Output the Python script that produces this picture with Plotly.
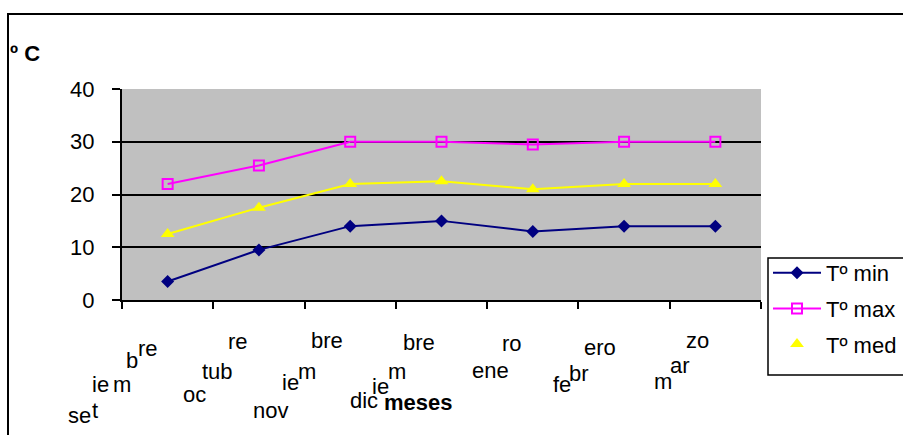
import plotly.graph_objects as go

months = ["setiembre", "octubre", "noviembre", "diciembre", "enero", "febrero", "marzo"]
t_min = [3.5, 9.5, 14, 15, 13, 14, 14]
t_max = [22, 25.5, 30, 30, 29.5, 30, 30]
t_med = [12.5, 17.5, 22, 22.5, 21, 22, 22]
y_ticks = [0, 10, 20, 30, 40]

# broken tick-label fragments as they appear in the picture, per month
label_parts = [
    ["se", "t", "ie", "m", "b", "re"],
    ["oc", "tub", "re"],
    ["nov", "ie", "m", "bre"],
    ["dic", "ie", "m", "bre"],
    ["ene", "ro"],
    ["fe", "br", "ero"],
    ["m", "ar", "zo"],
]
# pixel offsets (dx, dy) of each fragment from the category centre / axis bottom
part_offsets = [
    [(-88, -115), (-73, -110), (-67, -84), (-46, -84), (-36, -60), (-20, -48)],
    [(-64, -94), (-41, -71), (-21, -41)],
    [(-80, -110), (-60, -82), (-43, -71), (-23, -40)],
    [(-78, -100), (-61, -86), (-45, -71), (-23, -42)],
    [(-42, -70), (-21, -43)],
    [(-62, -84), (-45, -73), (-24, -47)],
    [(-52, -81), (-35, -65), (-18, -40)],
]

FONT = "Liberation Sans, Arial, sans-serif"
FS = 22

def px_x(p):
    return (p - 122) / 639

def px_y(p):
    return (300 - p) / 211

fig = go.Figure()
fig.add_trace(go.Scatter(
    x=months, y=t_min, mode="lines+markers", name="Tº min", legendgroup="a",
    line=dict(color="#000080", width=2),
    marker=dict(symbol="diamond", size=10, color="#000080"),
))
fig.add_trace(go.Scatter(
    x=months, y=t_max, mode="lines+markers", name="Tº max", legendgroup="b",
    line=dict(color="#FF00FF", width=2),
    marker=dict(symbol="square-open", size=10, color="#FF00FF", line=dict(width=2)),
))
fig.add_trace(go.Scatter(
    x=months, y=t_med, mode="lines+markers", name="Tº med", showlegend=False,
    line=dict(color="#FFFF00", width=2),
    marker=dict(symbol="triangle-up", size=12, color="#FFFF00"),
))
fig.add_trace(go.Scatter(
    x=[None], y=[None], mode="markers", name="Tº med", legendgroup="c",
    marker=dict(symbol="triangle-up", size=12, color="#FFFF00"),
))

annotations = []
for m, parts, offs in zip(months, label_parts, part_offsets):
    for txt, (dx, dy) in zip(parts, offs):
        annotations.append(dict(
            x=m, xref="x", y=0, yref="paper", text=txt, showarrow=False,
            xanchor="center", yanchor="middle", xshift=dx, yshift=dy,
            font=dict(family=FONT, size=FS, color="black"),
        ))
annotations.append(dict(
    x=px_x(418), xref="paper", y=0, yref="paper", yshift=-102,
    text="<b>meses</b>", showarrow=False, xanchor="center", yanchor="middle",
    font=dict(family=FONT, size=FS, color="black"),
))
annotations.append(dict(
    x=px_x(25), xref="paper", y=px_y(54), yref="paper",
    text="<b>º C</b>", showarrow=False, xanchor="center", yanchor="middle",
    font=dict(family=FONT, size=FS, color="black"),
))

fig.update_layout(
    width=903, height=435,
    margin=dict(l=122, r=142, t=89, b=135, autoexpand=False),
    paper_bgcolor="white", plot_bgcolor="#C0C0C0",
    font=dict(family=FONT, size=FS, color="black"),
    showlegend=True,
    legend=dict(
        x=px_x(768), xanchor="left", y=px_y(252), yanchor="top",
        bgcolor="rgba(0,0,0,0)", borderwidth=0,
        font=dict(family=FONT, size=FS, color="black"),
        itemwidth=48, tracegroupgap=4, traceorder="grouped",
    ),
    annotations=annotations,
    shapes=[
        dict(
            type="rect", xref="paper", yref="paper",
            x0=px_x(8), x1=px_x(915), y0=px_y(445), y1=px_y(14),
            line=dict(color="black", width=2), fillcolor="rgba(0,0,0,0)", layer="below",
        ),
        dict(
            type="rect", xref="paper", yref="paper",
            x0=px_x(768), x1=px_x(915), y0=px_y(375), y1=px_y(258),
            line=dict(color="black", width=1.5), fillcolor="white", layer="below",
        ),
    ],
)
fig.update_xaxes(
    type="category", categoryorder="array", categoryarray=months,
    range=[-0.5, 6.5], showgrid=False, showticklabels=False,
    showline=True, linecolor="black", linewidth=2,
    ticks="outside", ticklen=7, tickcolor="black", tickwidth=2, tickson="boundaries",
)
fig.update_yaxes(
    range=[0, 40], tickvals=y_ticks, showgrid=True, gridcolor="black", gridwidth=1.5,
    zeroline=False, showline=True, linecolor="black", linewidth=2,
    ticks="outside", ticklen=8, tickcolor="black", tickwidth=2,
    ticklabelstandoff=13, tickfont=dict(family=FONT, size=FS, color="black"),
)

fig.write_html("out.html")
